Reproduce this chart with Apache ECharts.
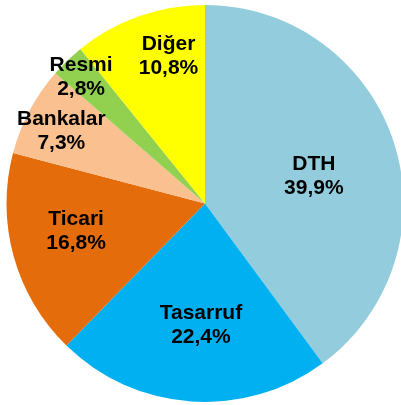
<!DOCTYPE html>
<html>
<head>
<meta charset="utf-8">
<script src="https://cdn.jsdelivr.net/npm/echarts@6/dist/echarts.min.js"></script>
<style>html,body{margin:0;padding:0;background:#fff;}#c{width:401px;height:405px;}</style>
</head>
<body>
<div id="c"></div>
<script>
var categories = ['DTH', 'Tasarruf', 'Ticari', 'Bankalar', 'Resmi', 'Diğer'];
var values = [39.9, 22.4, 16.8, 7.3, 2.8, 10.8];
var colors = ['#93CDDD', '#00B0F0', '#E46C0A', '#FAC090', '#92D050', '#FFFF00'];
var labelShift = [[11.7, 5], [3, 19.5], [-30.4, 0], [-53.3, -24], [-53, -53], [-2.5, -51]];

var chart = echarts.init(document.getElementById('c'));
var data = categories.map(function (c, i) {
  return { name: c, value: values[i], itemStyle: { color: colors[i] } };
});
chart.setOption({
  animation: false,
  series: [{
    type: 'pie',
    center: [205, 203.5],
    radius: [0, 198.5],
    startAngle: 90,
    clockwise: true,
    avoidLabelOverlap: false,
    itemStyle: { borderWidth: 0 },
    emphasis: { disabled: true },
    label: {
      show: true,
      position: 'inside',
      color: '#000',
      fontFamily: 'Liberation Sans, Arial, sans-serif',
      fontWeight: 'bold',
      fontSize: 21,
      lineHeight: 24,
      formatter: function (p) {
        return p.name + '\n' + p.value.toFixed(1).replace('.', ',') + '%';
      }
    },
    labelLine: { show: false },
    labelLayout: function (p) {
      var s = labelShift[p.dataIndex];
      return { dx: s[0], dy: s[1] };
    },
    data: data
  }]
});
</script>
</body>
</html>
